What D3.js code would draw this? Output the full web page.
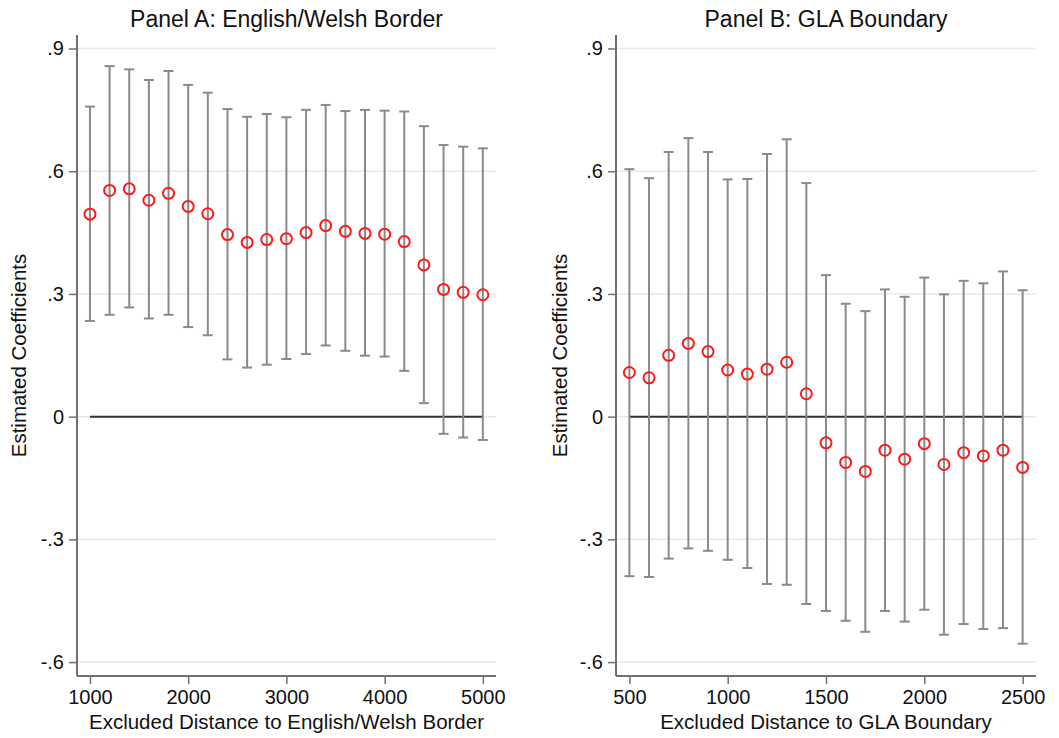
<!DOCTYPE html>
<html>
<head>
<meta charset="utf-8">
<script src="https://cdn.jsdelivr.net/npm/d3@7"></script>
<style>
  body { margin: 0; background: #fff; }
  text { font-family: "Liberation Sans", Arial, sans-serif; fill: #111; }
</style>
</head>
<body>
<div id="chart"></div>
<script>
var width = 1059;
var height = 738;

// Panel A: English/Welsh border
var distA = [1000, 1200, 1400, 1600, 1800, 2000, 2200, 2400, 2600, 2800, 3000,
             3200, 3400, 3600, 3800, 4000, 4200, 4400, 4600, 4800, 5000];
var coefA = [0.495, 0.553, 0.557, 0.529, 0.546, 0.514, 0.496, 0.445, 0.426, 0.433, 0.435,
             0.450, 0.467, 0.453, 0.448, 0.446, 0.428, 0.371, 0.311, 0.304, 0.298];
var upperA = [0.758, 0.857, 0.849, 0.823, 0.845, 0.811, 0.792, 0.752, 0.733, 0.740, 0.732,
              0.750, 0.762, 0.747, 0.750, 0.748, 0.746, 0.710, 0.664, 0.660, 0.656];
var lowerA = [0.234, 0.249, 0.267, 0.240, 0.249, 0.219, 0.199, 0.140, 0.120, 0.127, 0.141,
              0.153, 0.174, 0.161, 0.149, 0.147, 0.112, 0.033, -0.042, -0.051, -0.057];

// Panel B: GLA boundary
var distB = [500, 600, 700, 800, 900, 1000, 1100, 1200, 1300, 1400, 1500,
             1600, 1700, 1800, 1900, 2000, 2100, 2200, 2300, 2400, 2500];
var coefB = [0.108, 0.095, 0.150, 0.179, 0.159, 0.114, 0.104, 0.116, 0.133, 0.056, -0.064,
             -0.112, -0.134, -0.082, -0.104, -0.066, -0.117, -0.088, -0.096, -0.082, -0.124];
var upperB = [0.605, 0.583, 0.647, 0.681, 0.647, 0.580, 0.581, 0.642, 0.678, 0.571, 0.346,
              0.276, 0.258, 0.311, 0.293, 0.340, 0.299, 0.332, 0.326, 0.355, 0.309];
var lowerB = [-0.390, -0.392, -0.347, -0.322, -0.328, -0.350, -0.370, -0.409, -0.411, -0.458, -0.475,
              -0.499, -0.526, -0.475, -0.501, -0.472, -0.533, -0.507, -0.519, -0.517, -0.555];

var yTicks = [-0.6, -0.3, 0, 0.3, 0.6, 0.9];
var yTickLabels = ["-.6", "-.3", "0", ".3", ".6", ".9"];
var xTicksA = [1000, 2000, 3000, 4000, 5000];
var xTicksB = [500, 1000, 1500, 2000, 2500];

var svg = d3.select("#chart")
  .append("svg")
    .attr("width", width)
    .attr("height", height);

var panels = [
  { title: "Panel A: English/Welsh Border", xlab: "Excluded Distance to English/Welsh Border",
    x: distA, c: coefA, hi: upperA, lo: lowerA, ticks: xTicksA,
    left: 77, right: 496, xdom: [868, 5134], ytitleX: 19 },
  { title: "Panel B: GLA Boundary", xlab: "Excluded Distance to GLA Boundary",
    x: distB, c: coefB, hi: upperB, lo: lowerB, ticks: xTicksB,
    left: 616, right: 1036, xdom: [432, 2568], ytitleX: 560 }
];

var plotTop = 35, plotBottom = 676;

var y = d3.scaleLinear()
  .domain([-0.634, 0.933])
  .range([plotBottom, plotTop]);

function fmt(v) {
  return yTickLabels[yTicks.indexOf(v)];
}

panels.forEach(function(p) {
  var x = d3.scaleLinear().domain(p.xdom).range([p.left, p.right]);
  var g = svg.append("g");

  // gridlines
  g.selectAll(".grid")
    .data(yTicks)
    .enter()
    .append("line")
      .attr("x1", p.left)
      .attr("x2", p.right)
      .attr("y1", function(d){ return y(d); })
      .attr("y2", function(d){ return y(d); })
      .attr("stroke", "#e8e8e8")
      .attr("stroke-width", 1.5);

  // y axis
  var yAxis = d3.axisLeft(y).tickValues(yTicks).tickSize(8).tickPadding(5).tickFormat(fmt);
  var ya = g.append("g")
    .attr("transform", "translate(" + p.left + ",0)")
    .call(yAxis);

  // x axis
  var xAxis = d3.axisBottom(x).tickValues(p.ticks).tickSize(8).tickPadding(6).tickFormat(d3.format("d"));
  var xa = g.append("g")
    .attr("transform", "translate(0," + plotBottom + ")")
    .call(xAxis);

  [ya, xa].forEach(function(a) {
    a.select(".domain").attr("stroke", "#707070").attr("stroke-width", 2);
    a.selectAll(".tick line").attr("stroke", "#707070").attr("stroke-width", 1.5);
    a.selectAll(".tick text")
      .style("font-size", "20px")
      .style("font-family", "'Liberation Sans', Arial, sans-serif")
      .attr("fill", "#111");
  });
  ya.select(".domain").attr("d", "M0," + plotBottom + "V" + plotTop);
  xa.select(".domain").attr("d", "M" + p.left + ",0H" + p.right);

  // zero reference line
  g.append("line")
    .attr("x1", x(p.x[0]))
    .attr("x2", x(p.x[p.x.length - 1]))
    .attr("y1", y(0))
    .attr("y2", y(0))
    .attr("stroke", "#333")
    .attr("stroke-width", 2);

  var rows = p.x.map(function(d, i){ return { x: d, c: p.c[i], hi: p.hi[i], lo: p.lo[i] }; });

  // error bars
  var bars = g.append("g").attr("stroke", "#8a8a8a").attr("stroke-width", 2);
  bars.selectAll(".v")
    .data(rows).enter().append("line")
      .attr("x1", function(d){ return x(d.x); })
      .attr("x2", function(d){ return x(d.x); })
      .attr("y1", function(d){ return y(d.hi); })
      .attr("y2", function(d){ return y(d.lo); });
  ["hi", "lo"].forEach(function(k) {
    bars.selectAll(".cap-" + k)
      .data(rows).enter().append("line")
        .attr("x1", function(d){ return x(d.x) - 5; })
        .attr("x2", function(d){ return x(d.x) + 5; })
        .attr("y1", function(d){ return y(d[k]); })
        .attr("y2", function(d){ return y(d[k]); });
  });

  // point estimates
  g.selectAll(".pt")
    .data(rows).enter().append("circle")
      .attr("cx", function(d){ return x(d.x); })
      .attr("cy", function(d){ return y(d.c); })
      .attr("r", 5.5)
      .attr("fill", "none")
      .attr("stroke", "#ff1a1a")
      .attr("stroke-width", 2);

  // titles
  g.append("text")
    .attr("x", (p.left + p.right) / 2)
    .attr("y", 27)
    .attr("text-anchor", "middle")
    .style("font-size", "23px")
    .text(p.title);

  g.append("text")
    .attr("x", (p.left + p.right) / 2)
    .attr("y", 729)
    .attr("text-anchor", "middle")
    .style("font-size", "20.5px")
    .text(p.xlab);

  g.append("text")
    .attr("transform", "translate(" + (p.ytitleX + 7) + "," + ((plotTop + plotBottom) / 2) + ") rotate(-90)")
    .attr("text-anchor", "middle")
    .style("font-size", "20.5px")
    .text("Estimated Coefficients");
});
</script>
</body>
</html>
